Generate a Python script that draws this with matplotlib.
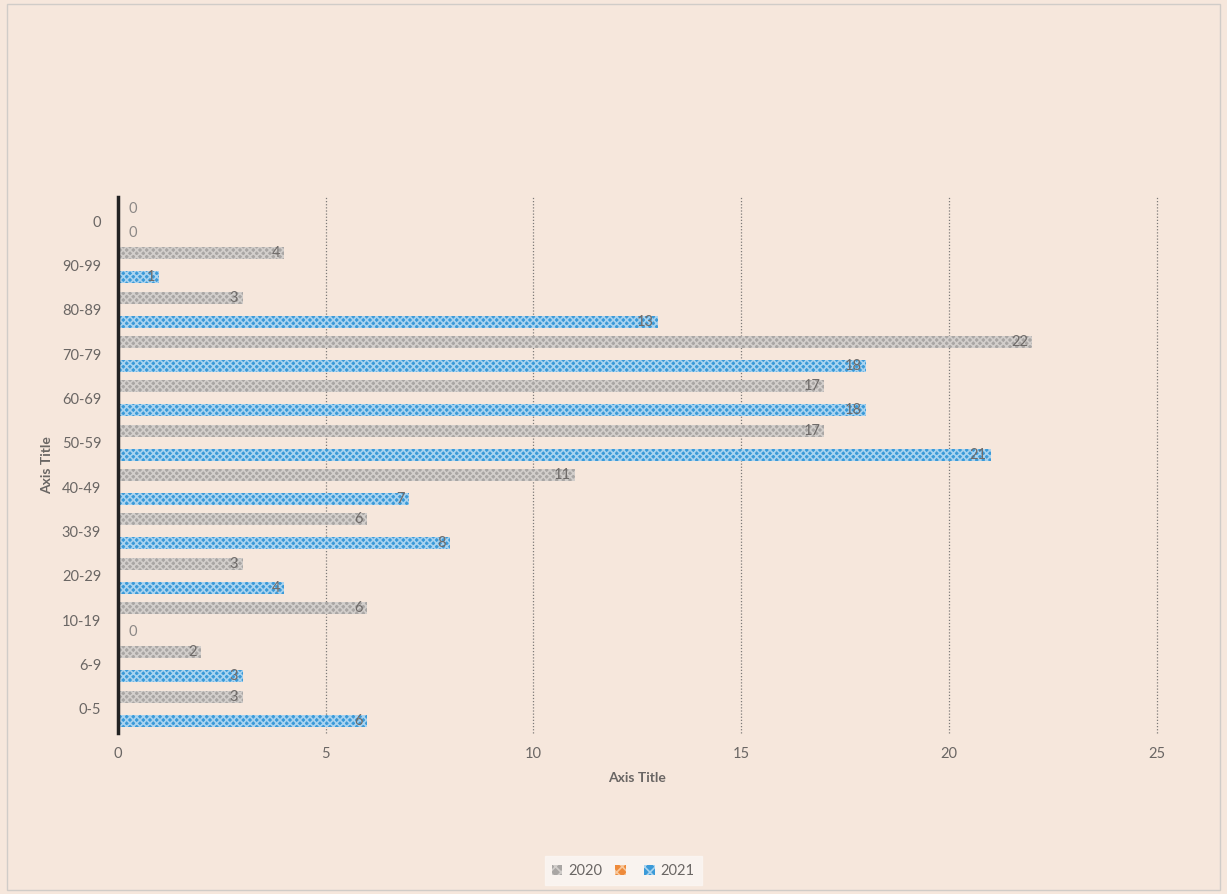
import matplotlib
matplotlib.use("Agg")
import matplotlib.pyplot as plt
from matplotlib.patches import Rectangle, Patch
import numpy as np

plt.rcParams['font.family'] = ['Lato', 'DejaVu Sans']
plt.rcParams['hatch.linewidth'] = 1.2

# age groups, bottom to top
groups = ["0-5", "6-9", "10-19", "20-29", "30-39", "40-49",
          "50-59", "60-69", "70-79", "80-89", "90-99", "0"]
vals_2020 = [3, 2, 6, 3, 6, 11, 17, 17, 22, 3, 4, 0]
vals_2021 = [6, 3, 0, 4, 8, 7, 21, 18, 18, 13, 1, 0]

bg = "#f6e7dc"
grey = "#a9a6a4"
grey_dot = "#d2cecb"
blue = "#3b9ad8"
blue_dot = "#a9d3ef"
text_col = "#6a6664"

fig = plt.figure(figsize=(12.27, 8.94), dpi=100, facecolor=bg)
ax = fig.add_axes([0.096, 0.18, 0.847, 0.60])
ax.set_facecolor(bg)

# light frame round the whole chart area
fig.patches.append(Rectangle((0.006, 0.004), 0.988, 0.991, transform=fig.transFigure,
                             fill=False, edgecolor="#d0ccc8", linewidth=1.0))

y = np.arange(len(groups))
h = 0.27
off = 0.27
b20 = ax.barh(y + off, vals_2020, height=h, color=grey, edgecolor=grey_dot,
              hatch="xxxxx", linewidth=0, zorder=3)
b21 = ax.barh(y - off, vals_2021, height=h, color=blue, edgecolor=blue_dot,
              hatch="xxxxx", linewidth=0, zorder=3)

# value labels at the inside end of each bar
for bars, vals in ((b20, vals_2020), (b21, vals_2021)):
    for bar, v in zip(bars, vals):
        yc = bar.get_y() + bar.get_height() / 2
        if v == 0:
            ax.annotate(str(v), (0, yc), xytext=(8, 0), textcoords="offset points",
                        ha="left", va="center", fontsize=10.5, color="#8c8886", zorder=4)
        else:
            ax.annotate(str(v), (v, yc), xytext=(-3, 0), textcoords="offset points",
                        ha="right", va="center", fontsize=10.5, color="#6f6b69", zorder=4)

ax.set_xlim(0, 25)
ax.set_ylim(-0.55, len(groups) - 0.45)
ax.set_xticks(range(0, 26, 5))
ax.set_yticks(y)
ax.set_yticklabels(groups)
ax.tick_params(axis="both", length=0, labelsize=10.5, labelcolor=text_col)
ax.tick_params(axis="x", pad=10)
ax.tick_params(axis="y", pad=12)

# vertical dotted gridlines, the last one sits on the right edge
for gx in range(5, 26, 5):
    ax.axvline(gx, linestyle=(0, (1, 1.5)), color="#7d7a78", linewidth=0.9,
               zorder=1, clip_on=False)
for s in ("top", "right", "bottom"):
    ax.spines[s].set_visible(False)
ax.spines["left"].set_linewidth(2.5)
ax.spines["left"].set_color("#222222")
ax.spines["left"].set_zorder(5)

ax.set_xlabel("Axis Title", fontsize=10, fontweight="bold", color=text_col, labelpad=8)
ax.set_ylabel("Axis Title", fontsize=10, fontweight="bold", color=text_col, labelpad=6)

handles = [Patch(facecolor=grey, edgecolor=grey_dot, hatch="xxx", linewidth=0),
           Patch(facecolor="#ee8a3a", edgecolor="#f7c79c", hatch="xxx", linewidth=0),
           Patch(facecolor=blue, edgecolor=blue_dot, hatch="xxx", linewidth=0)]
leg = fig.legend(handles, ["2020", "", "2021"], loc="center", bbox_to_anchor=(0.508, 0.026),
                 ncol=3, frameon=True, fontsize=10.5, handlelength=0.7, handleheight=0.7,
                 handletextpad=0.4, columnspacing=0.9, fancybox=False, borderpad=0.5)
leg.get_frame().set_facecolor("#fbf7f4")
leg.get_frame().set_edgecolor("#fbf7f4")
for t in leg.get_texts():
    t.set_color(text_col)

fig.savefig("out.png", dpi=100, facecolor=bg)
